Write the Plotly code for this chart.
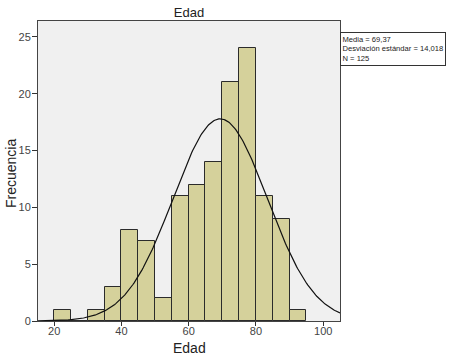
import numpy as np
import plotly.graph_objects as go

bin_starts = [20, 25, 30, 35, 40, 45, 50, 55, 60, 65, 70, 75, 80, 85, 90]
counts = [1, 0, 1, 3, 8, 7, 2, 11, 12, 14, 21, 24, 11, 9, 1]
bin_width = 5
mean = 69.37
sd = 14.018
n = 125
x_ticks = [20, 40, 60, 80, 100]
y_ticks = [0, 5, 10, 15, 20, 25]

centers = [b + bin_width / 2 for b in bin_starts]
xs = np.linspace(15.2, 105, 300)
ys = n * bin_width / (sd * np.sqrt(2 * np.pi)) * np.exp(-0.5 * ((xs - mean) / sd) ** 2)

FONT = "Liberation Sans, Arial, sans-serif"
W, H = 455, 363

fig = go.Figure()
fig.add_trace(go.Bar(
    x=centers, y=counts, width=bin_width,
    marker=dict(color="#d5d19b", line=dict(color="#2b2b2b", width=1)),
    showlegend=False, hoverinfo="x+y",
))
fig.add_trace(go.Scatter(
    x=xs, y=ys, mode="lines", line=dict(color="#111111", width=1.2),
    showlegend=False, hoverinfo="skip",
))

L, R, T, B = 38, 115, 21, 42
pw, ph = W - L - R, H - T - B

fig.update_layout(
    template="none",
    width=W, height=H,
    margin=dict(l=L, r=R, t=T, b=B, autoexpand=False),
    paper_bgcolor="white", plot_bgcolor="#f0f0f0",
    font=dict(family=FONT, color="#333333", size=11),
    bargap=0,
    title=dict(text="Edad", x=(L + W - R) / 2 / W, xanchor="center", y=1 - 12.5 / H, yanchor="middle",
               font=dict(size=13, color="#222222")),
    xaxis=dict(range=[15.2, 105], tickvals=x_ticks, ticks="outside", ticklen=4, tickcolor="#333",
               automargin=False, ticklabelstandoff=-4,
               showgrid=False, zeroline=False, showline=True, linecolor="#444", linewidth=1, mirror=True,
               tickfont=dict(size=11, color="#444")),
    yaxis=dict(range=[0, 26.4], tickvals=y_ticks, ticks="outside", ticklen=5, tickcolor="#333",
               automargin=False, ticklabelstandoff=-1,
               showgrid=False, zeroline=False, showline=True, linecolor="#444", linewidth=1, mirror=True,
               tickfont=dict(size=11, color="#444")),
    annotations=[
        dict(
            xref="paper", yref="paper", x=1.0, y=0.962, xanchor="left", yanchor="top",
            text="Media = 69,37<br>Desviación estándar = 14,018<br>N = 125",
            showarrow=False, align="left", font=dict(size=7.6, color="#222222", family=FONT),
            bordercolor="#333333", borderwidth=1, borderpad=1.5, bgcolor="white",
        ),
        dict(
            xref="paper", yref="paper", x=0.5, y=-(348 - (H - B)) / ph,
            xanchor="center", yanchor="middle", text="Edad", showarrow=False,
            font=dict(size=14, color="#222222", family=FONT),
        ),
        dict(
            xref="paper", yref="paper", x=-(L - 11) / pw, y=1 - (174 - T) / ph,
            xanchor="center", yanchor="middle", text="Frecuencia", textangle=-90, showarrow=False,
            font=dict(size=14, color="#222222", family=FONT),
        ),
    ],
)

fig.write_html("out.html", config={"displayModeBar": False},
               post_script="document.body.style.margin='0';")
